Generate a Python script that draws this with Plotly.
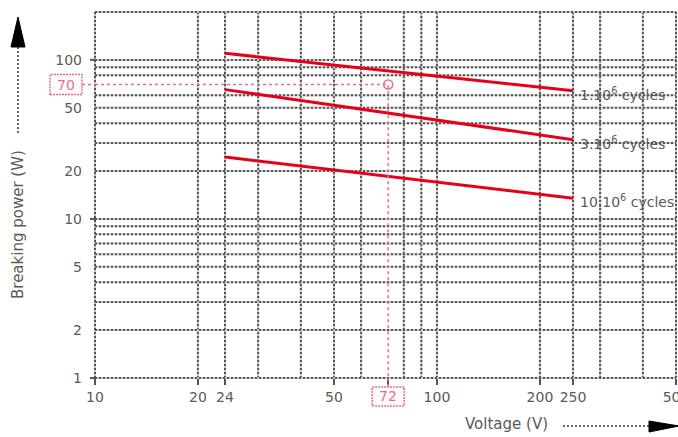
import math
import plotly.graph_objects as go

# ---- data ----
voltage = [24, 250]
p_1e6 = [110, 64]
p_3e6 = [65, 31.5]
p_10e6 = [24.5, 13.5]
series_labels = ["1.10<sup>6</sup> cycles", "3.10<sup>6</sup> cycles", "10.10<sup>6</sup> cycles"]

x_ticks = [10, 20, 24, 50, 72, 100, 200, 250, 500]
x_ticktext = ["10", "20", "24", "50", "", "100", "200", "250", "500"]
x_grid = [10, 20, 24, 30, 40, 50, 60, 80, 90, 100, 200, 250, 300, 400, 500]
y_ticks = [1, 2, 5, 10, 20, 50, 100]
y_ticktext = ["1", "2", "5", "10", "20", "50", "100"]
y_grid = [1, 2, 3, 4, 5, 6, 7, 8, 9, 10, 20, 30, 40, 50, 60, 80, 90, 100, 200]
y_major = [1, 10, 100]
mark_v = 72
mark_p = 70

X_RANGE = [10, 500]
Y_RANGE = [1, 200]

RED = "#e6001e"
PINK = "#ee6a86"
GRID_DARK = "#555555"
GRID_LIGHT = "#c8c8c8"
TXT = "#5a5a5a"
FONT = "DejaVu Sans"


def xfrac(v):
    return (math.log10(v) - math.log10(X_RANGE[0])) / (math.log10(X_RANGE[1]) - math.log10(X_RANGE[0]))


def yfrac(v):
    return (math.log10(v) - math.log10(Y_RANGE[0])) / (math.log10(Y_RANGE[1]) - math.log10(Y_RANGE[0]))


fig = go.Figure()

for ys, lab in zip([p_1e6, p_3e6, p_10e6], series_labels):
    fig.add_trace(go.Scatter(x=voltage, y=ys, mode="lines",
                             line=dict(color=RED, width=3), showlegend=False,
                             hoverinfo="skip"))
    fig.add_annotation(x=math.log10(voltage[-1]), y=math.log10(ys[-1]),
                       text=lab, showarrow=False, xanchor="left", yanchor="middle",
                       xshift=5, yshift=-3, font=dict(family=FONT, size=14, color=TXT))

# guide lines for the marked point
fig.add_trace(go.Scatter(x=[X_RANGE[0], mark_v, mark_v], y=[mark_p, mark_p, Y_RANGE[0]],
                         mode="lines", line=dict(color=PINK, width=1.5, dash="3px,3px"),
                         showlegend=False, hoverinfo="skip"))
fig.add_trace(go.Scatter(x=[mark_v], y=[mark_p], mode="markers",
                         marker=dict(symbol="circle-open", size=9, color=PINK,
                                     line=dict(width=1.5, color=PINK)),
                         showlegend=False, hoverinfo="skip"))

shapes = []
# grid (two layers: light solid + dark dotted)
for v in x_grid:
    for col, dash in [(GRID_LIGHT, "solid"), (GRID_DARK, "2px,2px")]:
        shapes.append(dict(type="line", xref="paper", yref="paper", x0=xfrac(v), x1=xfrac(v), y0=0, y1=1,
                           line=dict(color=col, width=2, dash=dash), layer="below"))
for v in y_grid:
    for col, dash in [(GRID_LIGHT, "solid"), (GRID_DARK, "2px,2px")]:
        shapes.append(dict(type="line", xref="paper", yref="paper", x0=0, x1=1, y0=yfrac(v), y1=yfrac(v),
                           line=dict(color=col, width=2, dash=dash), layer="below"))
# y tick marks at decades
for v in y_major:
    shapes.append(dict(type="line", xref="paper", xsizemode="pixel", xanchor=0, x0=-5, x1=0,
                       yref="paper", y0=yfrac(v), y1=yfrac(v), line=dict(color=GRID_DARK, width=2)))
# guide extensions & boxes
shapes.append(dict(type="line", xref="paper", xsizemode="pixel", xanchor=0, x0=-13, x1=0,
                   yref="paper", y0=yfrac(mark_p), y1=yfrac(mark_p),
                   line=dict(color=PINK, width=1.5, dash="3px,3px")))
shapes.append(dict(type="line", xref="paper", x0=xfrac(mark_v), x1=xfrac(mark_v), yref="paper",
                   ysizemode="pixel", yanchor=0, y0=0, y1=-9,
                   line=dict(color=PINK, width=1.5, dash="3px,3px")))
shapes.append(dict(type="rect", xref="paper", xsizemode="pixel", xanchor=0, x0=-45, x1=-13,
                   yref="paper", ysizemode="pixel", yanchor=yfrac(mark_p), y0=-10, y1=10,
                   line=dict(color=PINK, width=1.5, dash="2px,1px")))
shapes.append(dict(type="rect", xref="paper", xsizemode="pixel", xanchor=xfrac(mark_v), x0=-16, x1=16,
                   yref="paper", ysizemode="pixel", yanchor=0, y0=-9, y1=-28,
                   line=dict(color=PINK, width=1.5, dash="2px,1px")))
# axis arrows
shapes.append(dict(type="line", xref="paper", xsizemode="pixel", xanchor=0, x0=-77, x1=-77,
                   yref="paper", ysizemode="pixel", yanchor=1, y0=-35, y1=-123,
                   line=dict(color="#666666", width=2, dash="2px,2px")))
shapes.append(dict(type="path", xref="paper", xsizemode="pixel", xanchor=0,
                   yref="paper", ysizemode="pixel", yanchor=1,
                   path="M -84,-35 L -70,-35 L -77,-5 Z", fillcolor="black",
                   line=dict(color="black", width=1)))
shapes.append(dict(type="line", xref="paper", xsizemode="pixel", xanchor=1, x0=-113, x1=-26,
                   yref="paper", ysizemode="pixel", yanchor=0, y0=-48, y1=-48,
                   line=dict(color="#666666", width=2, dash="2px,2px")))
shapes.append(dict(type="path", xref="paper", xsizemode="pixel", xanchor=1,
                   yref="paper", ysizemode="pixel", yanchor=0,
                   path="M -27,-43 L -27,-54 L 3,-48 Z", fillcolor="black",
                   line=dict(color="black", width=1)))

annotations = [
    dict(xref="paper", x=0, xshift=-29, yref="paper", y=yfrac(mark_p), text=str(mark_p),
         xanchor="center", yanchor="middle",
         showarrow=False, font=dict(family=FONT, size=14, color=PINK)),
    dict(xref="paper", x=xfrac(mark_v), yref="paper", y=0, yshift=-18, text=str(mark_v),
         xanchor="center", yanchor="middle",
         showarrow=False, font=dict(family=FONT, size=14, color=PINK)),
    dict(xref="paper", x=0, xshift=-77, yref="paper", y=(378 - 225) / 366,
         xanchor="center", yanchor="middle",
         text="Breaking power (W)", textangle=-90, showarrow=False,
         font=dict(family=FONT, size=15, color=TXT)),
    dict(xref="paper", x=1, xshift=-170, yref="paper", y=0, yshift=-46,
         xanchor="center", yanchor="middle",
         text="Voltage (V)", showarrow=False,
         font=dict(family=FONT, size=15, color=TXT)),
]
for a in annotations:
    fig.add_annotation(**a)

fig.update_layout(
    width=678, height=437,
    margin=dict(l=95, r=2, t=12, b=59, autoexpand=False),
    paper_bgcolor="white", plot_bgcolor="white",
    shapes=shapes,
    showlegend=False,
    xaxis=dict(type="log", range=[math.log10(X_RANGE[0]), math.log10(X_RANGE[1]) + 1e-6],
               tickvals=x_ticks, ticktext=x_ticktext, showgrid=False, zeroline=False,
               ticks="outside", ticklen=6, tickwidth=2, tickcolor=GRID_DARK, automargin=False,
               ticklabeloverflow="allow",
               showline=False, tickfont=dict(family=FONT, size=14, color=TXT)),
    yaxis=dict(type="log", range=[math.log10(Y_RANGE[0]), math.log10(Y_RANGE[1])],
               tickvals=y_ticks, ticktext=y_ticktext, showgrid=False, zeroline=False,
               ticks="", ticklabelstandoff=12, showline=False, automargin=False,
               ticklabeloverflow="allow",
               tickfont=dict(family=FONT, size=14, color=TXT)),
)

fig.write_html("out.html", config={"displayModeBar": False},
               post_script="document.body.style.margin='0';document.body.style.overflow='hidden';")
